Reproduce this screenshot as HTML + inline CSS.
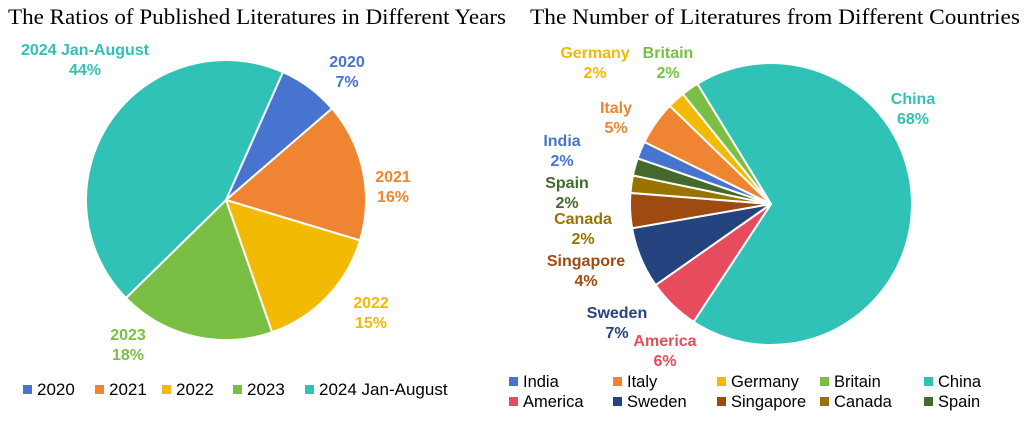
<!DOCTYPE html>
<html><head><meta charset="utf-8"><style>
body{margin:0;background:#fff}
svg{display:block;font-family:"Liberation Sans",Arial,sans-serif}
.t{font-family:"Liberation Serif",serif;font-size:22px;fill:#000}
.lab{font-weight:bold;font-size:16px;text-anchor:middle}
.lg{fill:#000}
</style></head><body>
<svg id="c" width="1030" height="421">
<text class="t" x="8" y="24" textLength="498" lengthAdjust="spacingAndGlyphs">The Ratios of Published Literatures in Different Years</text>
<text class="t" x="530" y="24" textLength="490" lengthAdjust="spacingAndGlyphs">The Number of  Literatures from Different Countries</text>
</svg>
<script>
const yearCats=["2020","2021","2022","2023","2024 Jan-August"];
const yearVals=[7,16,15,18,44];
const countryCats=["China","America","Sweden","Singapore","Canada","Spain","India","Italy","Germany","Britain"];
const countryVals=[68,6,7,4,2,2,2,5,2,2];
const legendOrder=["India","Italy","Germany","Britain","China","America","Sweden","Singapore","Canada","Spain"];
const yearColors=["#4774CF","#EF8532","#F2BA02","#7ABF43","#30C2B6"];
const cColors={China:"#30C2B6",America:"#E64B5E",Sweden:"#25437F",Singapore:"#9E4A10",Canada:"#997400",Spain:"#43692B",India:"#4774CF",Italy:"#EF8532",Germany:"#F2BA02",Britain:"#7ABF43"};
const NS="http://www.w3.org/2000/svg";
const svg=document.getElementById('c');
function mk(t,a){const e=document.createElementNS(NS,t);for(const k in a)e.setAttribute(k,a[k]);svg.appendChild(e);return e;}
function pt(cx,cy,r,deg){const a=deg*Math.PI/180;return [cx+r*Math.sin(a),cy-r*Math.cos(a)];}
function pie(cats,vals,colors,cx,cy,r,start,labels,prefix){
  const tot=vals.reduce((a,b)=>a+b,0);let ang=start;
  cats.forEach((c,i)=>{
    const sw=vals[i]/tot*360;const p1=pt(cx,cy,r,ang),p2=pt(cx,cy,r,ang+sw);
    const p=mk('path',{d:`M${cx},${cy}L${p1[0]},${p1[1]}A${r},${r} 0 ${sw>180?1:0} 1 ${p2[0]},${p2[1]}Z`,fill:colors[i],stroke:'#fff','stroke-width':2});
    
    
    const L=labels[c];
    if(L){const t=mk('text',{class:'lab',x:L[0],y:L[1],fill:L[2]||colors[i]});
      
      
      const a=document.createElementNS(NS,'tspan');a.setAttribute('x',L[0]);a.textContent=c;t.appendChild(a);
      const b=document.createElementNS(NS,'tspan');b.setAttribute('x',L[0]);b.setAttribute('dy','20');b.textContent=vals[i]+'%';t.appendChild(b);}
    ang+=sw;
  });
}
pie(yearCats,yearVals,yearColors,226,200,140,24,{
 "2020":[347,67],"2021":[393,182],"2022":[371,308],"2023":[128,340],"2024 Jan-August":[85,55]},'year');
pie(countryCats,countryVals,countryCats.map(c=>cColors[c]),771,204,141,-31.5,{
 China:[913,104],America:[665,346],Sweden:[617,318],Singapore:[586,266],Canada:[583,224],Spain:[567,188],India:[562,146],Italy:[616,113],Germany:[595,58],Britain:[668,58]},'country');
function legend(items,colors,y,xs,prefix,fs){
  items.forEach((c,i)=>{const x=xs[i];
    const r=mk('rect',{x:x,y:y-10,width:9,height:9,fill:colors[i]});
    
    
    const t=mk('text',{class:'lg',x:x+14,y:y,style:'font-size:'+fs+'px'});t.textContent=c;
    
    });
}
legend(yearCats,yearColors,395,[23,95,162,233,305],'year',17);
const xsR=[509,613,717,820,924];
legend(legendOrder.slice(0,5),legendOrder.slice(0,5).map(c=>cColors[c]),387,xsR,'country',16.5);
legend(legendOrder.slice(5),legendOrder.slice(5).map(c=>cColors[c]),407,xsR,'country',16.5);
</script>
</body></html>
